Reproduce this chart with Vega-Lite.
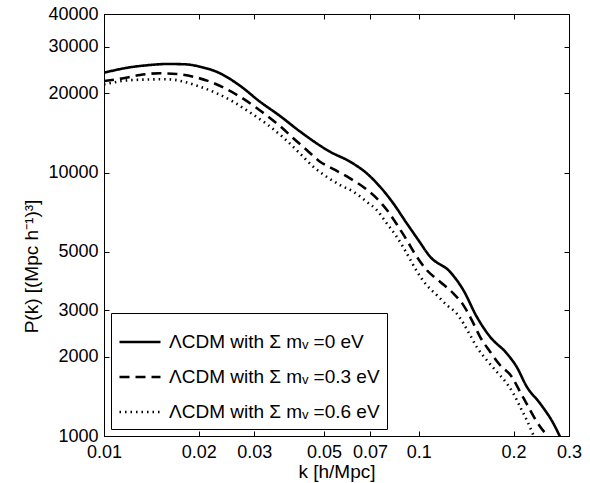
{
  "$schema": "https://vega.github.io/schema/vega-lite/v6.json",
  "width": 465,
  "height": 422,
  "autosize": {"type": "none"},
  "padding": {"left": 104, "top": 14, "right": 21, "bottom": 47},
  "background": "white",
  "data": {"values": [
    {"k": 0.01, "P": 23950, "s": "ΛCDM with Σ mᵥ =0 eV"},
    {"k": 0.01209, "P": 25100, "s": "ΛCDM with Σ mᵥ =0 eV"},
    {"k": 0.014, "P": 25610, "s": "ΛCDM with Σ mᵥ =0 eV"},
    {"k": 0.01585, "P": 25840, "s": "ΛCDM with Σ mᵥ =0 eV"},
    {"k": 0.01808, "P": 25770, "s": "ΛCDM with Σ mᵥ =0 eV"},
    {"k": 0.02018, "P": 25240, "s": "ΛCDM with Σ mᵥ =0 eV"},
    {"k": 0.02336, "P": 23820, "s": "ΛCDM with Σ mᵥ =0 eV"},
    {"k": 0.02704, "P": 21370, "s": "ΛCDM with Σ mᵥ =0 eV"},
    {"k": 0.0313, "P": 18580, "s": "ΛCDM with Σ mᵥ =0 eV"},
    {"k": 0.03624, "P": 16400, "s": "ΛCDM with Σ mᵥ =0 eV"},
    {"k": 0.04195, "P": 14320, "s": "ΛCDM with Σ mᵥ =0 eV"},
    {"k": 0.05224, "P": 12000, "s": "ΛCDM with Σ mᵥ =0 eV"},
    {"k": 0.06046, "P": 11000, "s": "ΛCDM with Σ mᵥ =0 eV"},
    {"k": 0.06831, "P": 9940, "s": "ΛCDM with Σ mᵥ =0 eV"},
    {"k": 0.0753, "P": 8840, "s": "ΛCDM with Σ mᵥ =0 eV"},
    {"k": 0.08299, "P": 7640, "s": "ΛCDM with Σ mᵥ =0 eV"},
    {"k": 0.09154, "P": 6420, "s": "ΛCDM with Σ mᵥ =0 eV"},
    {"k": 0.09963, "P": 5550, "s": "ΛCDM with Σ mᵥ =0 eV"},
    {"k": 0.10854, "P": 4800, "s": "ΛCDM with Σ mᵥ =0 eV"},
    {"k": 0.12565, "P": 4200, "s": "ΛCDM with Σ mᵥ =0 eV"},
    {"k": 0.1385, "P": 3580, "s": "ΛCDM with Σ mᵥ =0 eV"},
    {"k": 0.1527, "P": 2840, "s": "ΛCDM with Σ mᵥ =0 eV"},
    {"k": 0.1684, "P": 2380, "s": "ΛCDM with Σ mᵥ =0 eV"},
    {"k": 0.1902, "P": 2060, "s": "ΛCDM with Σ mᵥ =0 eV"},
    {"k": 0.2046, "P": 1830, "s": "ΛCDM with Σ mᵥ =0 eV"},
    {"k": 0.2202, "P": 1540, "s": "ΛCDM with Σ mᵥ =0 eV"},
    {"k": 0.2427, "P": 1330, "s": "ΛCDM with Σ mᵥ =0 eV"},
    {"k": 0.2675, "P": 1117, "s": "ΛCDM with Σ mᵥ =0 eV"},
    {"k": 0.2809, "P": 994, "s": "ΛCDM with Σ mᵥ =0 eV"},
    {"k": 0.01, "P": 22270, "s": "ΛCDM with Σ mᵥ =0.3 eV"},
    {"k": 0.01152, "P": 22800, "s": "ΛCDM with Σ mᵥ =0.3 eV"},
    {"k": 0.01301, "P": 23470, "s": "ΛCDM with Σ mᵥ =0.3 eV"},
    {"k": 0.01506, "P": 23820, "s": "ΛCDM with Σ mᵥ =0.3 eV"},
    {"k": 0.01702, "P": 23680, "s": "ΛCDM with Σ mᵥ =0.3 eV"},
    {"k": 0.01921, "P": 23120, "s": "ΛCDM with Σ mᵥ =0.3 eV"},
    {"k": 0.02171, "P": 22140, "s": "ΛCDM with Σ mᵥ =0.3 eV"},
    {"k": 0.02423, "P": 20890, "s": "ΛCDM with Σ mᵥ =0.3 eV"},
    {"k": 0.02704, "P": 19410, "s": "ΛCDM with Σ mᵥ =0.3 eV"},
    {"k": 0.03017, "P": 17780, "s": "ΛCDM with Σ mᵥ =0.3 eV"},
    {"k": 0.03325, "P": 16300, "s": "ΛCDM with Σ mᵥ =0.3 eV"},
    {"k": 0.03668, "P": 14830, "s": "ΛCDM with Σ mᵥ =0.3 eV"},
    {"k": 0.03994, "P": 13500, "s": "ΛCDM with Σ mᵥ =0.3 eV"},
    {"k": 0.04405, "P": 12180, "s": "ΛCDM with Σ mᵥ =0.3 eV"},
    {"k": 0.04855, "P": 11000, "s": "ΛCDM with Σ mᵥ =0.3 eV"},
    {"k": 0.05419, "P": 10230, "s": "ΛCDM with Σ mᵥ =0.3 eV"},
    {"k": 0.06046, "P": 9510, "s": "ΛCDM with Σ mᵥ =0.3 eV"},
    {"k": 0.06747, "P": 8720, "s": "ΛCDM with Σ mᵥ =0.3 eV"},
    {"k": 0.07438, "P": 7870, "s": "ΛCDM with Σ mᵥ =0.3 eV"},
    {"k": 0.08002, "P": 7100, "s": "ΛCDM with Σ mᵥ =0.3 eV"},
    {"k": 0.08608, "P": 6230, "s": "ΛCDM with Σ mᵥ =0.3 eV"},
    {"k": 0.09154, "P": 5550, "s": "ΛCDM with Σ mᵥ =0.3 eV"},
    {"k": 0.09725, "P": 4910, "s": "ΛCDM with Σ mᵥ =0.3 eV"},
    {"k": 0.1059, "P": 4270, "s": "ΛCDM with Σ mᵥ =0.3 eV"},
    {"k": 0.1168, "P": 3850, "s": "ΛCDM with Σ mᵥ =0.3 eV"},
    {"k": 0.1287, "P": 3480, "s": "ΛCDM with Σ mᵥ =0.3 eV"},
    {"k": 0.1385, "P": 3140, "s": "ΛCDM with Σ mᵥ =0.3 eV"},
    {"k": 0.1472, "P": 2760, "s": "ΛCDM with Σ mᵥ =0.3 eV"},
    {"k": 0.1565, "P": 2380, "s": "ΛCDM with Σ mᵥ =0.3 eV"},
    {"k": 0.1684, "P": 2090, "s": "ΛCDM with Σ mᵥ =0.3 eV"},
    {"k": 0.1811, "P": 1860, "s": "ΛCDM with Σ mᵥ =0.3 eV"},
    {"k": 0.1973, "P": 1680, "s": "ΛCDM with Σ mᵥ =0.3 eV"},
    {"k": 0.2097, "P": 1473, "s": "ΛCDM with Σ mᵥ =0.3 eV"},
    {"k": 0.2227, "P": 1292, "s": "ΛCDM with Σ mᵥ =0.3 eV"},
    {"k": 0.2369, "P": 1133, "s": "ΛCDM with Σ mᵥ =0.3 eV"},
    {"k": 0.2549, "P": 1009, "s": "ΛCDM with Σ mᵥ =0.3 eV"},
    {"k": 0.01, "P": 21640, "s": "ΛCDM with Σ mᵥ =0.6 eV"},
    {"k": 0.01239, "P": 22470, "s": "ΛCDM with Σ mᵥ =0.6 eV"},
    {"k": 0.01582, "P": 22610, "s": "ΛCDM with Σ mᵥ =0.6 eV"},
    {"k": 0.02018, "P": 21190, "s": "ΛCDM with Σ mᵥ =0.6 eV"},
    {"k": 0.0228, "P": 20000, "s": "ΛCDM with Σ mᵥ =0.6 eV"},
    {"k": 0.02575, "P": 18580, "s": "ΛCDM with Σ mᵥ =0.6 eV"},
    {"k": 0.02909, "P": 16910, "s": "ΛCDM with Σ mᵥ =0.6 eV"},
    {"k": 0.03287, "P": 15290, "s": "ΛCDM with Σ mᵥ =0.6 eV"},
    {"k": 0.03711, "P": 13590, "s": "ΛCDM with Σ mᵥ =0.6 eV"},
    {"k": 0.04195, "P": 11810, "s": "ΛCDM with Σ mᵥ =0.6 eV"},
    {"k": 0.04623, "P": 10530, "s": "ΛCDM with Σ mᵥ =0.6 eV"},
    {"k": 0.05097, "P": 9640, "s": "ΛCDM with Σ mᵥ =0.6 eV"},
    {"k": 0.0562, "P": 8970, "s": "ΛCDM with Σ mᵥ =0.6 eV"},
    {"k": 0.06194, "P": 8460, "s": "ΛCDM with Σ mᵥ =0.6 eV"},
    {"k": 0.06831, "P": 7750, "s": "ΛCDM with Σ mᵥ =0.6 eV"},
    {"k": 0.07352, "P": 7210, "s": "ΛCDM with Σ mᵥ =0.6 eV"},
    {"k": 0.07907, "P": 6420, "s": "ΛCDM with Σ mᵥ =0.6 eV"},
    {"k": 0.08507, "P": 5710, "s": "ΛCDM with Σ mᵥ =0.6 eV"},
    {"k": 0.09154, "P": 4940, "s": "ΛCDM with Σ mᵥ =0.6 eV"},
    {"k": 0.09847, "P": 4230, "s": "ΛCDM with Σ mᵥ =0.6 eV"},
    {"k": 0.1059, "P": 3740, "s": "ΛCDM with Σ mᵥ =0.6 eV"},
    {"k": 0.114, "P": 3430, "s": "ΛCDM with Σ mᵥ =0.6 eV"},
    {"k": 0.1227, "P": 3140, "s": "ΛCDM with Σ mᵥ =0.6 eV"},
    {"k": 0.1319, "P": 2920, "s": "ΛCDM with Σ mᵥ =0.6 eV"},
    {"k": 0.1385, "P": 2680, "s": "ΛCDM with Σ mᵥ =0.6 eV"},
    {"k": 0.1454, "P": 2420, "s": "ΛCDM with Σ mᵥ =0.6 eV"},
    {"k": 0.1527, "P": 2180, "s": "ΛCDM with Σ mᵥ =0.6 eV"},
    {"k": 0.1643, "P": 1943, "s": "ΛCDM with Σ mᵥ =0.6 eV"},
    {"k": 0.1768, "P": 1754, "s": "ΛCDM with Σ mᵥ =0.6 eV"},
    {"k": 0.1902, "P": 1585, "s": "ΛCDM with Σ mᵥ =0.6 eV"},
    {"k": 0.1996, "P": 1452, "s": "ΛCDM with Σ mᵥ =0.6 eV"},
    {"k": 0.2097, "P": 1292, "s": "ΛCDM with Σ mᵥ =0.6 eV"},
    {"k": 0.2202, "P": 1150, "s": "ΛCDM with Σ mᵥ =0.6 eV"},
    {"k": 0.2311, "P": 1009, "s": "ΛCDM with Σ mᵥ =0.6 eV"}
  ]},
  "layer": [
    {
      "mark": {"type": "line", "color": "black", "interpolate": "monotone", "clip": true},
      "encoding": {
        "x": {"field": "k", "type": "quantitative",
          "scale": {"type": "log", "domain": [0.01, 0.3], "nice": false},
          "axis": {"orient": "bottom", "values": [0.01, 0.02, 0.03, 0.05, 0.07, 0.1, 0.2, 0.3], "format": "~g",
            "labelPadding": 12, "title": "k [h/Mpc]", "titleY": 26, "titleBaseline": "top"}},
        "y": {"field": "P", "type": "quantitative",
          "scale": {"type": "log", "domain": [1000, 40000], "nice": false},
          "axis": {"orient": "left", "values": [1000, 2000, 3000, 5000, 10000, 20000, 30000, 40000], "format": "d",
            "labelPadding": 11, "title": "P(k) [(Mpc h⁻¹)³]", "titleX": -63, "titleY": 252}},
        "strokeDash": {"field": "s", "type": "nominal",
          "scale": {"domain": ["ΛCDM with Σ mᵥ =0 eV", "ΛCDM with Σ mᵥ =0.3 eV", "ΛCDM with Σ mᵥ =0.6 eV"],
            "range": [[1, 0], [10, 6], [1.5, 4]]}},
        "strokeWidth": {"field": "s", "type": "nominal",
          "scale": {"domain": ["ΛCDM with Σ mᵥ =0 eV", "ΛCDM with Σ mᵥ =0.3 eV", "ΛCDM with Σ mᵥ =0.6 eV"],
            "range": [2.6, 2.6, 1.4]}}
      }
    },
    {
      "mark": {"type": "line", "strokeOpacity": 0},
      "encoding": {
        "x": {"field": "k", "type": "quantitative",
          "scale": {"type": "log", "domain": [0.01, 0.3], "nice": false},
          "axis": {"orient": "top", "values": [0.01, 0.02, 0.03, 0.05, 0.07, 0.1, 0.2, 0.3], "labels": false, "title": null}},
        "y": {"field": "P", "type": "quantitative",
          "scale": {"type": "log", "domain": [1000, 40000], "nice": false},
          "axis": {"orient": "right", "values": [1000, 2000, 3000, 5000, 10000, 20000, 30000, 40000], "labels": false, "title": null}},
        "detail": {"field": "s"}
      }
    }
  ],
  "resolve": {"axis": {"x": "independent", "y": "independent"}},
  "config": {
    "font": "Liberation Sans",
    "view": {"stroke": "black", "strokeWidth": 1},
    "axis": {
      "grid": false,
      "domainColor": "black",
      "domainWidth": 1,
      "tickColor": "black",
      "tickSize": -5,
      "tickWidth": 1,
      "labelColor": "black",
      "labelFont": "Liberation Sans",
      "labelFontSize": 18,
      "labelFlush": false,
      "labelOverlap": false,
      "titleColor": "black",
      "titleFont": "Liberation Sans",
      "titleFontSize": 19,
      "titleFontWeight": "normal"
    },
    "legend": {
      "orient": "bottom-left",
      "offset": 7,
      "title": null,
      "padding": 7,
      "strokeColor": "black",
      "fillColor": "white",
      "symbolType": "stroke",
      "symbolSize": 1681,
      "symbolStrokeColor": "black",
      "labelFont": "Liberation Sans",
      "labelFontSize": 19,
      "labelColor": "black",
      "labelOffset": 7,
      "labelLimit": 400,
      "rowPadding": 3
    }
  }
}
